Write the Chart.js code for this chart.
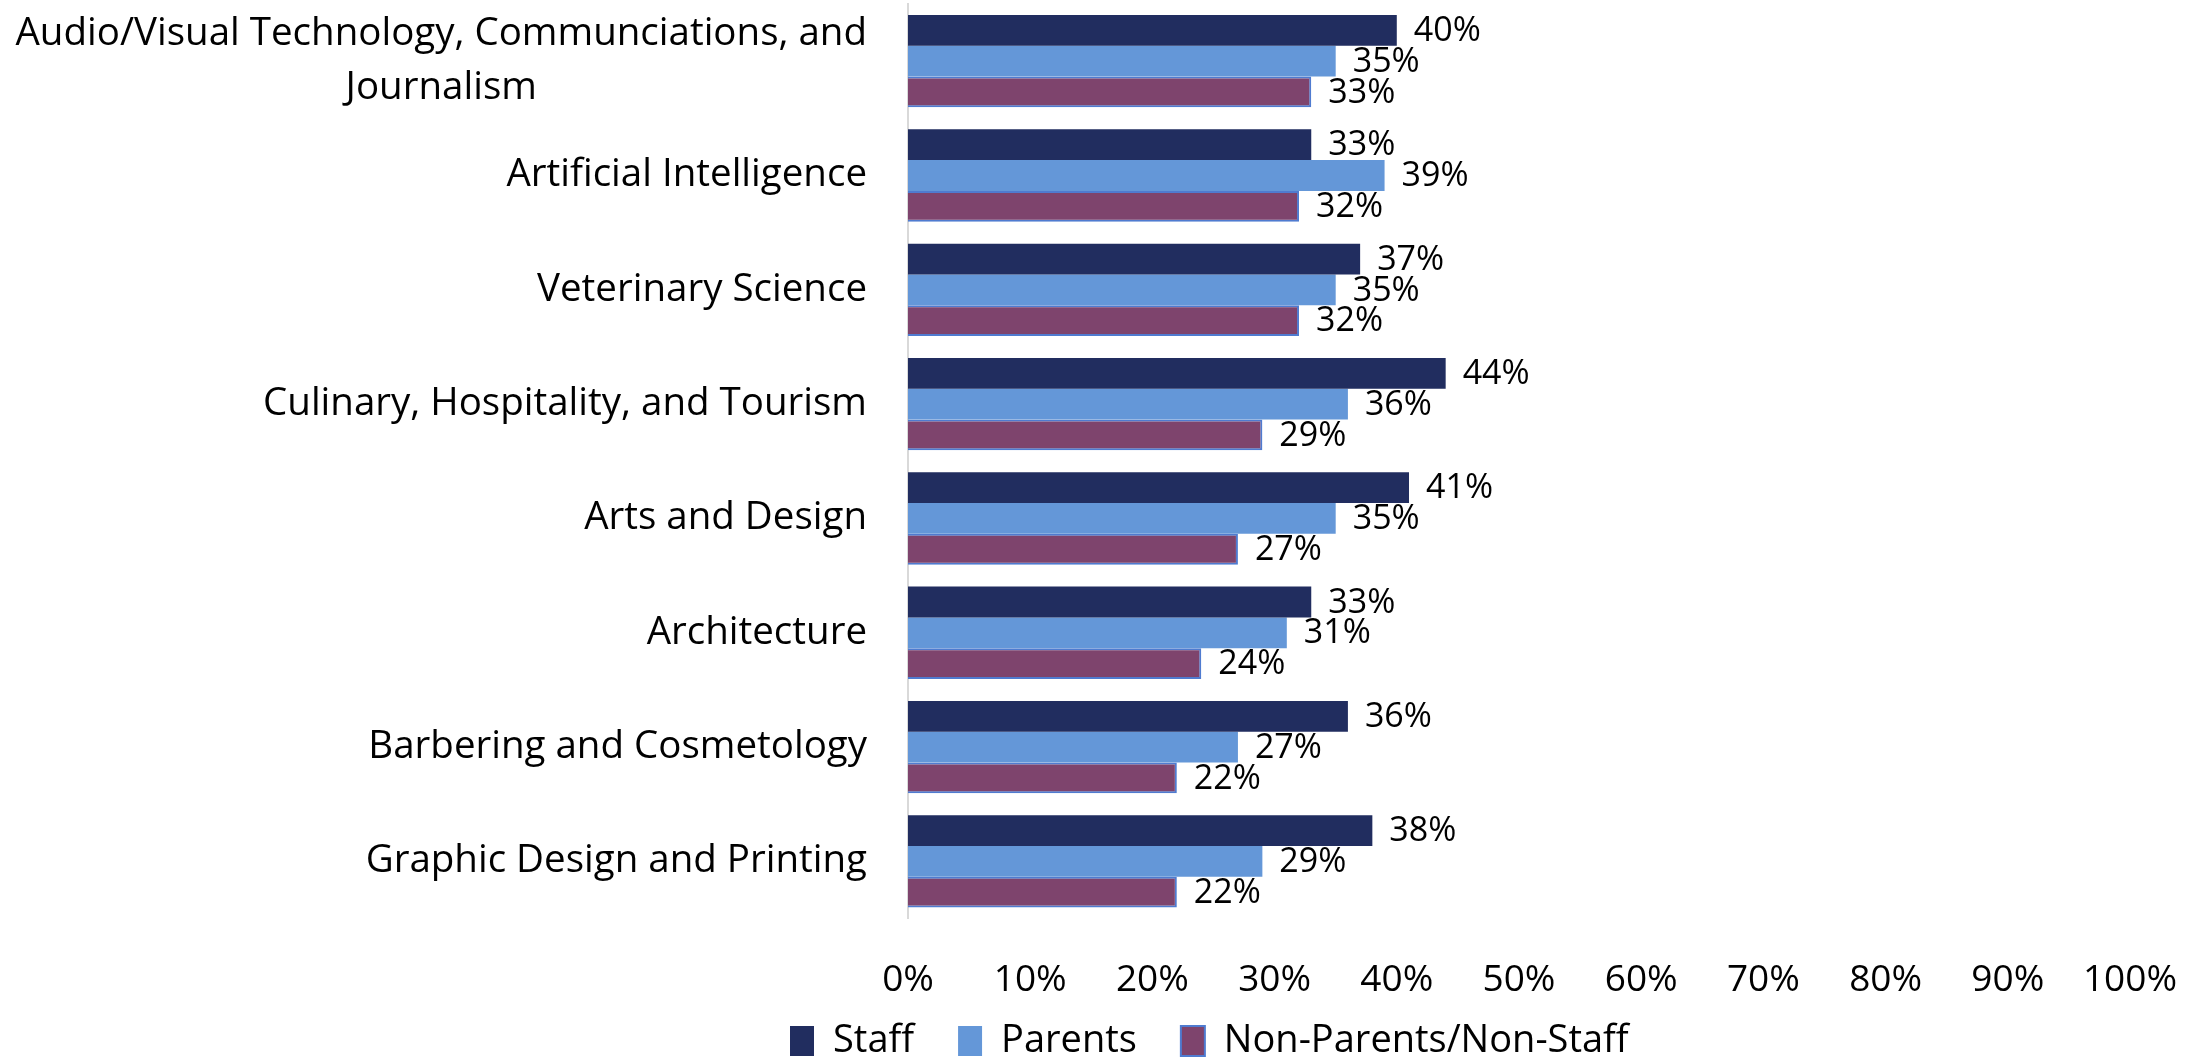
<!DOCTYPE html>
<html>
<head>
<meta charset="utf-8">
<script src="https://cdn.jsdelivr.net/npm/chart.js@4.4.1/dist/chart.umd.min.js"></script>
<style>
  html, body { margin: 0; padding: 0; background: #fff; }
  #wrap { width: 2190px; height: 1060px; position: relative; }
</style>
</head>
<body>
<div id="wrap"><canvas id="chart"></canvas></div>
<script>
'use strict';

// Data
const categories = [
    ['Audio/Visual Technology, Communciations, and', 'Journalism'],
    'Artificial Intelligence',
    'Veterinary Science',
    'Culinary, Hospitality, and Tourism',
    'Arts and Design',
    'Architecture',
    'Barbering and Cosmetology',
    'Graphic Design and Printing'
];
const seriesNames = ['Staff', 'Parents', 'Non-Parents/Non-Staff'];
const staffValues = [40, 33, 37, 44, 41, 33, 36, 38];
const parentValues = [35, 39, 35, 36, 35, 31, 27, 29];
const otherValues = [33, 32, 32, 29, 27, 24, 22, 22];
const xTickValues = [0, 10, 20, 30, 40, 50, 60, 70, 80, 90, 100];

const FONT_FAMILY = "'Open Sans', sans-serif";
const CAT_FONT_SIZE = 38.5;
const CAT_LINE_HEIGHT = 54;
const CAT_LABEL_GAP = 41;
const VALUE_FONT_SIZE = 34;
const LEGEND_LEFT = 790;
const LEGEND_CENTER_Y = 1041;

Chart.defaults.font.family = FONT_FAMILY;
Chart.defaults.color = '#000';

// Category labels: right-aligned block, lines centred inside the block
const categoryLabels = {
    id: 'categoryLabels',
    afterDraw(chart) {
        const ctx = chart.ctx;
        const yScale = chart.scales.y;
        const right = chart.chartArea.left - CAT_LABEL_GAP;
        ctx.save();
        ctx.font = `${CAT_FONT_SIZE}px ${FONT_FAMILY}`;
        ctx.fillStyle = '#000';
        ctx.textBaseline = 'middle';
        ctx.textAlign = 'center';
        categories.forEach((label, i) => {
            const lines = Array.isArray(label) ? label : [label];
            const blockWidth = Math.max(...lines.map(l => ctx.measureText(l).width));
            const cy = yScale.getPixelForTick(i);
            lines.forEach((line, j) => {
                const ly = cy + (j - (lines.length - 1) / 2) * CAT_LINE_HEIGHT;
                ctx.fillText(line, right - blockWidth / 2, ly);
            });
        });
        ctx.restore();
    }
};

// Value labels at the end of each bar
const valueLabels = {
    id: 'valueLabels',
    afterDatasetsDraw(chart) {
        const ctx = chart.ctx;
        ctx.save();
        ctx.font = `${VALUE_FONT_SIZE}px ${FONT_FAMILY}`;
        ctx.fillStyle = '#000';
        ctx.textAlign = 'left';
        ctx.textBaseline = 'middle';
        chart.data.datasets.forEach((ds, di) => {
            const meta = chart.getDatasetMeta(di);
            meta.data.forEach((bar, i) => {
                ctx.fillText(ds.data[i] + '%', bar.x + 17, bar.y + 1);
            });
        });
        ctx.restore();
    }
};

// Move the legend to where the reference has it (it is drawn clipped to its box)
const legendPlacement = {
    id: 'legendPlacement',
    afterLayout(chart) {
        const lg = chart.legend;
        if (!lg) return;
        const pad = lg.options.labels.padding;
        const fontSize = lg.options.labels.font.size;
        lg.left = LEGEND_LEFT - pad;
        lg.top = LEGEND_CENTER_Y - pad - fontSize / 2;
        lg.bottom = chart.height;
        lg.height = lg.bottom - lg.top;
        lg.width = lg.right - lg.left;
    }
};

const ctx = document.getElementById('chart').getContext('2d');
const chart = new Chart(ctx, {
    type: 'bar',
    data: {
        labels: categories,
        datasets: [
            {
                label: seriesNames[0],
                data: staffValues,
                backgroundColor: '#212D5F',
                borderWidth: 0
            },
            {
                label: seriesNames[1],
                data: parentValues,
                backgroundColor: '#6497D8',
                borderWidth: 0
            },
            {
                label: seriesNames[2],
                data: otherValues,
                backgroundColor: '#7E446D',
                borderColor: '#4F7BD0',
                borderWidth: 2
            }
        ]
    },
    options: {
        indexAxis: 'y',
        responsive: true,
        maintainAspectRatio: false,
        animation: false,
        categoryPercentage: 0.808,
        barPercentage: 1.0,
        layout: { padding: { top: 4, right: 0, bottom: 0, left: 0 } },
        scales: {
            x: {
                min: 0,
                max: 100,
                grid: { display: false, drawTicks: true, tickLength: 27 },
                border: { display: false },
                afterBuildTicks(scale) {
                    scale.ticks = xTickValues.map(v => ({ value: v }));
                },
                ticks: {
                    padding: 13,
                    maxRotation: 0,
                    autoSkip: false,
                    font: { size: 37 },
                    color: '#000',
                    callback: v => v + '%'
                }
            },
            y: {
                grid: { display: false, drawTicks: false },
                border: { display: true, color: '#D9D9D9', width: 2 },
                ticks: { display: false },
                afterFit(scale) {
                    scale.width = 908;
                }
            }
        },
        plugins: {
            legend: {
                position: 'bottom',
                align: 'start',
                maxHeight: 44,
                labels: {
                    boxWidth: 24,
                    boxHeight: 30,
                    padding: 44,
                    color: '#000',
                    font: { size: 38 }
                }
            },
            tooltip: { enabled: false }
        }
    },
    plugins: [categoryLabels, valueLabels, legendPlacement]
});
</script>
</body>
</html>
